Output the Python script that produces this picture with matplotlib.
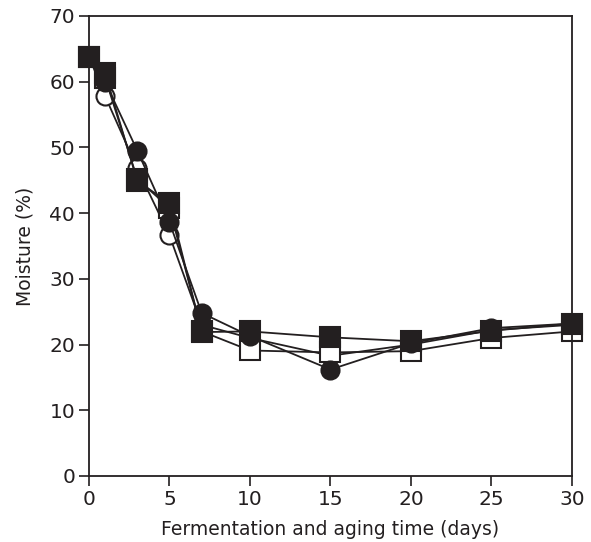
import matplotlib
matplotlib.use("Agg")
import matplotlib.pyplot as plt

plt.rcParams['font.family'] = ['DejaVu Sans']

days = [0, 1, 3, 5, 7, 10, 15, 20, 25, 30]

# moisture (%) for the four treatments
open_circle = [63.8, 57.8, 46.8, 36.6, 23.0, 21.0, 18.3, 20.0, 22.2, 23.0]
filled_circle = [63.8, 60.0, 49.5, 38.6, 24.8, 21.3, 16.2, 20.2, 22.5, 23.2]
open_square = [63.8, 60.6, 45.2, 40.8, 22.0, 19.1, 18.8, 19.0, 21.0, 22.0]
filled_square = [63.8, 61.3, 44.9, 41.5, 21.9, 22.0, 21.1, 20.5, 22.1, 23.2]

ink = '#231f20'

fig = plt.figure(figsize=(5.91, 5.42), dpi=100)
ax = fig.add_axes([0.1506, 0.1218, 0.8172, 0.8487])

series = [
    (open_circle, 'o', 'white', 13),
    (open_square, 's', 'white', 14),
    (filled_circle, 'o', ink, 13),
    (filled_square, 's', ink, 14),
]
for vals, mk, face, ms in series:
    ax.plot(days, vals, color=ink, lw=1.3, marker=mk, ms=ms,
            mfc=face, mec=ink, mew=1.5, clip_on=False)

ax.set_xlim(0, 30)
ax.set_ylim(0, 70)
ax.set_xticks(range(0, 31, 5))
ax.set_yticks(range(0, 71, 10))

for side in ax.spines.values():
    side.set_linewidth(1.3)
    side.set_color(ink)
ax.tick_params(direction='out', length=7, width=1.2, color=ink,
               labelsize=14.5, labelcolor=ink, pad=3)

ax.set_xlabel('Fermentation and aging time (days)', fontsize=13.5, color=ink, labelpad=8)
ax.set_ylabel('Moisture (%)', fontsize=13.5, color=ink, labelpad=11)

fig.savefig('out.png', dpi=100)
